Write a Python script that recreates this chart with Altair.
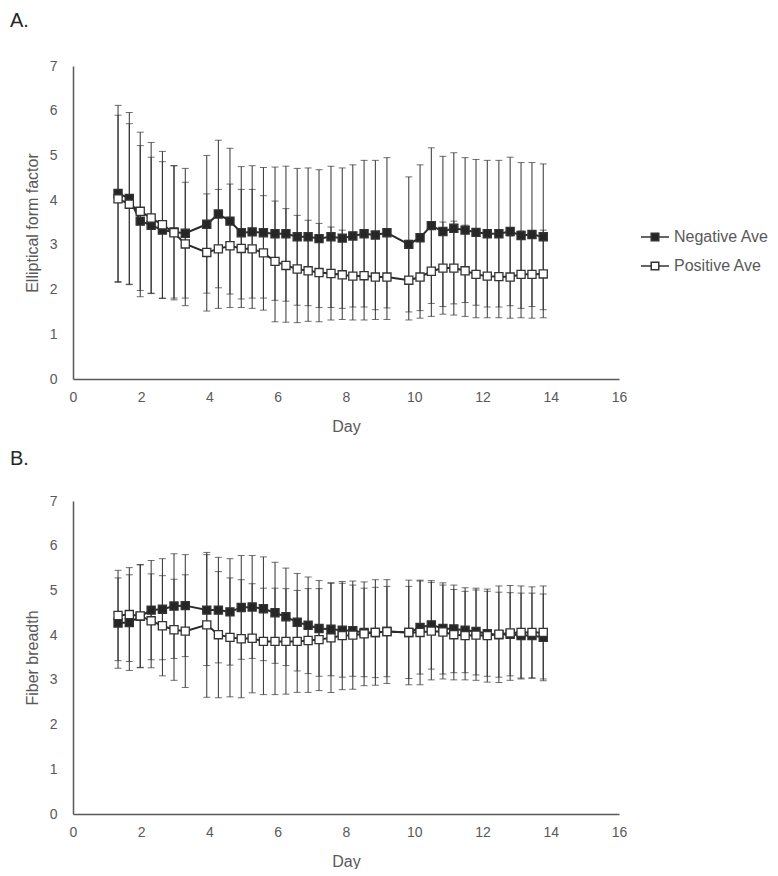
import altair as alt
import pandas as pd

days = [1.32, 1.65, 1.97, 2.29, 2.62, 2.96, 3.29,
        3.92, 4.26, 4.60, 4.93, 5.25, 5.58, 5.92, 6.24, 6.57, 6.89, 7.21, 7.56, 7.89, 8.20, 8.53, 8.86, 9.20,
        9.84, 10.17, 10.50, 10.84, 11.16, 11.49, 11.81, 12.14, 12.48, 12.81, 13.13, 13.45, 13.78]

series_names = ["Negative Ave", "Positive Ave"]

a_neg_mean = [4.15, 4.04, 3.53, 3.44, 3.33, 3.29, 3.26,
              3.46, 3.69, 3.53, 3.27, 3.29, 3.27, 3.25, 3.25, 3.18, 3.18, 3.14, 3.18, 3.15, 3.20, 3.25, 3.22, 3.27,
              3.01, 3.16, 3.43, 3.30, 3.37, 3.33, 3.28, 3.25, 3.25, 3.30, 3.21, 3.23, 3.18]
a_neg_sd = [1.97, 1.92, 1.69, 1.52, 1.53, 1.48, 1.45,
            1.54, 1.65, 1.63, 1.48, 1.48, 1.46, 1.49, 1.51, 1.53, 1.54, 1.54, 1.58, 1.57, 1.59, 1.64, 1.67, 1.68,
            1.51, 1.63, 1.74, 1.68, 1.69, 1.62, 1.63, 1.64, 1.64, 1.66, 1.63, 1.61, 1.63]
a_pos_mean = [4.03, 3.91, 3.75, 3.60, 3.45, 3.27, 3.02,
              2.83, 2.91, 2.98, 2.92, 2.91, 2.82, 2.63, 2.54, 2.46, 2.42, 2.38, 2.36, 2.33, 2.30, 2.31, 2.28, 2.28,
              2.21, 2.28, 2.41, 2.48, 2.48, 2.42, 2.34, 2.30, 2.29, 2.28, 2.34, 2.34, 2.35]
a_pos_sd = [1.87, 1.80, 1.77, 1.69, 1.64, 1.50, 1.38,
            1.31, 1.33, 1.38, 1.32, 1.33, 1.28, 1.35, 1.27, 1.20, 1.13, 1.10, 1.04, 1.00, 0.98, 0.99, 0.95, 0.95,
            0.89, 0.92, 1.01, 1.03, 1.05, 1.02, 0.97, 0.93, 0.92, 0.92, 0.97, 0.98, 0.98]

b_neg_mean = [4.27, 4.28, 4.42, 4.56, 4.58, 4.65, 4.66,
              4.56, 4.56, 4.52, 4.62, 4.63, 4.59, 4.50, 4.41, 4.29, 4.22, 4.15, 4.13, 4.11, 4.10, 4.06, 4.06, 4.08,
              4.06, 4.17, 4.23, 4.15, 4.14, 4.11, 4.08, 4.03, 4.01, 4.02, 3.99, 3.99, 3.95]
b_neg_sd = [1.01, 1.07, 1.15, 1.11, 1.13, 1.17, 1.14,
            1.24, 1.18, 1.19, 1.16, 1.15, 1.16, 1.13, 1.09, 1.09, 1.08, 1.07, 1.04, 1.05, 1.02, 0.99, 1.01, 1.01,
            1.03, 1.04, 0.99, 1.02, 0.98, 0.95, 0.97, 0.95, 0.95, 0.93, 0.95, 0.95, 0.97]
b_pos_mean = [4.44, 4.46, 4.43, 4.32, 4.21, 4.12, 4.09,
              4.23, 4.01, 3.95, 3.92, 3.93, 3.86, 3.86, 3.86, 3.86, 3.88, 3.90, 3.94, 3.99, 4.00, 4.03, 4.06, 4.08,
              4.06, 4.06, 4.09, 4.07, 4.01, 3.99, 4.00, 3.99, 4.02, 4.05, 4.06, 4.06, 4.06]
b_pos_sd = [1.01, 1.05, 1.15, 1.05, 1.12, 1.13, 1.26,
            1.62, 1.41, 1.33, 1.32, 1.22, 1.19, 1.19, 1.18, 1.14, 1.16, 1.14, 1.22, 1.21, 1.21, 1.16, 1.18, 1.16,
            1.17, 1.17, 1.09, 1.05, 1.01, 0.99, 1.01, 1.04, 1.08, 1.06, 1.04, 1.02, 1.04]

x_ticks = [0, 2, 4, 6, 8, 10, 12, 14, 16]
y_ticks = [0, 1, 2, 3, 4, 5, 6, 7]


def make_df(neg_mean, neg_sd, pos_mean, pos_sd):
    rows = []
    for d, m, s in zip(days, neg_mean, neg_sd):
        rows.append({"day": d, "series": series_names[0], "mean": m, "sd": s})
    for d, m, s in zip(days, pos_mean, pos_sd):
        rows.append({"day": d, "series": series_names[1], "mean": m, "sd": s})
    return pd.DataFrame(rows)


FONT = "Liberation Sans"
TXT = "#595959"
LEG_PATH = "M-1,0H-0.27M0.27,0H1M-0.27,-0.27H0.27V0.27H-0.27Z"


def panel(df, label, ytitle, show_legend, title_offset):
    xenc = alt.X("day:Q", scale=alt.Scale(domain=[0, 16], nice=False),
                 axis=alt.Axis(values=x_ticks, title="Day", grid=False, ticks=False,
                               labelFlush=False, labelPadding=11, titlePadding=14,
                               labelFontSize=14, titleFontSize=16, titleFontWeight="normal",
                               labelColor=TXT, titleColor=TXT, labelFont=FONT, titleFont=FONT,
                               domainColor=TXT, domainWidth=1.5))
    yaxis = alt.Axis(values=y_ticks, title=ytitle, grid=False, ticks=False, labelFlush=False,
                     labelPadding=16, titlePadding=9, labelFontSize=14, titleFontSize=16,
                     titleFontWeight="normal", labelColor=TXT, titleColor=TXT,
                     labelFont=FONT, titleFont=FONT, domainColor=TXT, domainWidth=1.5)
    yscale = alt.Scale(domain=[0, 7], nice=False)

    base = alt.Chart(df).transform_calculate(
        lo="datum.mean - datum.sd", hi="datum.mean + datum.sd"
    )

    rules = base.mark_rule(color="#333333", strokeWidth=1).encode(
        x=xenc,
        y=alt.Y("lo:Q", scale=yscale, axis=yaxis),
        y2="hi:Q",
        detail="series:N",
    )
    caps = base.transform_fold(["lo", "hi"], as_=["end", "yv"]).mark_tick(
        orient="horizontal", size=7, thickness=1, color="#333333"
    ).encode(
        x=xenc,
        y=alt.Y("yv:Q", scale=yscale, axis=yaxis),
        detail="series:N",
    )
    lines = base.mark_line(strokeWidth=2).encode(
        x=xenc,
        y=alt.Y("mean:Q", scale=yscale, axis=yaxis),
        detail="series:N",
        color=alt.value("#2b2b2b"),
    )
    fill_scale = alt.Scale(domain=series_names, range=["#262626", "#ffffff"])
    if show_legend:
        leg = alt.Legend(title=" ", titleFontSize=1, titlePadding=155, orient="right",
                         offset=21, padding=0,
                         symbolType=LEG_PATH, symbolSize=784, symbolStrokeWidth=1.5,
                         symbolStrokeColor="#333333",
                         rowPadding=6, labelFontSize=16, labelColor=TXT, labelFont=FONT,
                         labelOffset=4)
        fill_enc = alt.Fill("series:N", scale=fill_scale, legend=leg)
    else:
        fill_enc = alt.Fill("series:N", scale=fill_scale, legend=None)
    points = base.mark_square(size=66, opacity=1, strokeWidth=1.3, stroke="#333333").encode(
        x=xenc,
        y=alt.Y("mean:Q", scale=yscale, axis=yaxis),
        fill=fill_enc,
    )
    return alt.layer(rules, caps, lines, points).properties(
        width=546, height=313,
        title=alt.TitleParams(label, anchor="start", frame="group", fontSize=20,
                              font=FONT, fontWeight="normal", color="#262626",
                              offset=title_offset, dx=-63),
    )


dfa = make_df(a_neg_mean, a_neg_sd, a_pos_mean, a_pos_sd)
dfb = make_df(b_neg_mean, b_neg_sd, b_pos_mean, b_pos_sd)

chart = alt.vconcat(
    panel(dfa, "A.", "Elliptical form factor", True, 28),
    panel(dfb, "B.", "Fiber breadth", False, 25),
    spacing=15,
).resolve_scale(fill="independent").properties(
    padding={"left": 2, "top": 3, "right": 0, "bottom": 0}
).configure_view(stroke=None)

chart.save("out.html", embed_options={"renderer": "svg", "actions": False})
